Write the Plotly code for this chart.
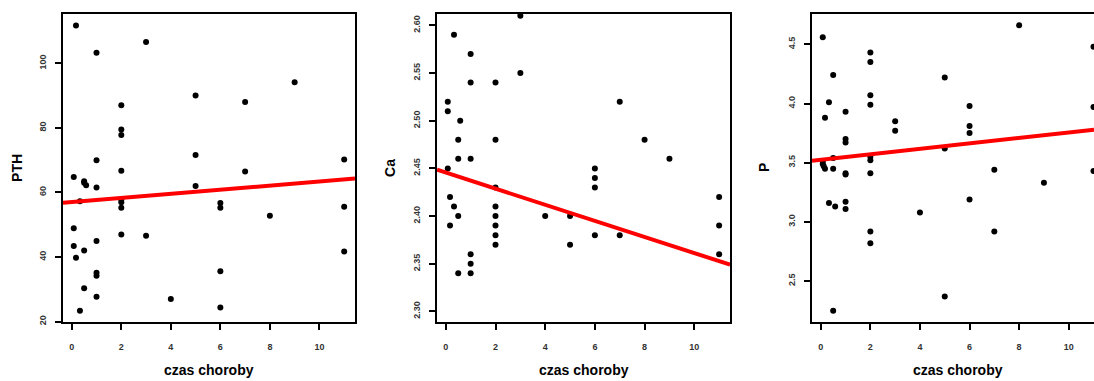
import plotly.graph_objects as go

# ---------------- data ----------------
pth_x = [0.17, 1, 3, 9, 5, 7, 2, 2, 2, 5, 1, 11, 2, 7, 0.08, 0.5, 0.5, 0.58, 1, 5,
         0.33, 2, 2, 2, 6, 6, 11, 8, 0.08, 2, 3, 0.08, 1, 0.5, 0.17, 11, 1, 1, 6,
         0.5, 1, 4, 6, 0.33]
pth_y = [111.7, 103.3, 106.6, 94.1, 90.0, 88.0, 87.0, 79.5, 77.8, 71.6, 70.0, 70.2,
         66.7, 66.5, 64.8, 63.5, 63.0, 62.2, 61.5, 62.0, 57.3, 57.8, 57.0, 55.3,
         56.7, 55.3, 55.6, 52.8, 48.9, 47.0, 46.6, 43.4, 45.0, 42.0, 39.8, 41.7,
         35.1, 34.2, 35.6, 30.3, 27.7, 27.0, 24.4, 23.4]

ca_x = [3, 0.33, 1, 1, 2, 3, 0.08, 0.08, 7, 0.58, 0.5, 2, 8, 0.5, 1, 9, 0.08, 6, 6,
        6, 2, 0.17, 11, 0.33, 2, 0.5, 2, 4, 5, 0.17, 2, 11, 2, 6, 7, 2, 5, 1, 11,
        1, 0.5, 1]
ca_y = [2.61, 2.59, 2.57, 2.54, 2.54, 2.55, 2.52, 2.51, 2.52, 2.50, 2.48, 2.48,
        2.48, 2.46, 2.46, 2.46, 2.45, 2.45, 2.44, 2.43, 2.43, 2.42, 2.42, 2.41,
        2.41, 2.40, 2.40, 2.40, 2.40, 2.39, 2.39, 2.39, 2.38, 2.38, 2.38, 2.37,
        2.37, 2.36, 2.36, 2.35, 2.34, 2.34]

p_x = [8, 0.08, 11, 2, 2, 5, 0.5, 2, 2, 0.33, 6, 11, 1, 0.17, 3, 3, 6, 6, 1, 1, 5,
       2, 2, 0.5, 0.08, 0.08, 0.12, 0.17, 0.5, 7, 11, 1, 1, 2, 9, 6, 1, 0.33,
       0.58, 1, 4, 2, 7, 2, 5, 0.5]
p_y = [4.66, 4.56, 4.48, 4.43, 4.35, 4.22, 4.24, 4.07, 3.99, 4.01, 3.98, 3.97,
       3.93, 3.88, 3.85, 3.77, 3.81, 3.75, 3.70, 3.67, 3.62, 3.55, 3.52, 3.54,
       3.51, 3.49, 3.47, 3.45, 3.45, 3.44, 3.43, 3.41, 3.40, 3.41, 3.33, 3.19,
       3.17, 3.16, 3.13, 3.11, 3.08, 2.92, 2.92, 2.82, 2.37, 2.25]

# regression lines (intercept, slope)
pth_fit = (57.0, 0.64)
ca_fit = (2.4456, -0.00844)
p_fit = (3.525, 0.023)

x_title = "czas choroby"
y_titles = ["PTH", "Ca", "P"]

pth_ticks = [20, 40, 60, 80, 100]
ca_ticks = [2.30, 2.35, 2.40, 2.45, 2.50, 2.55, 2.60]
p_ticks = [2.5, 3.0, 3.5, 4.0, 4.5]
x_ticks = [0, 2, 4, 6, 8, 10]

# ---------------- layout geometry ----------------
W, H = 1094, 381
box_top, box_bot = 14, 324.5
panels_px = [(63, 355), (437, 730), (812, W)]
x_ranges = [[-0.354, 11.437], [-0.354, 11.437], [-0.354, 11.02]]
y_ranges = [[19.9, 115.3], [2.289, 2.612], [2.155, 4.757]]
title_x_px = [209, 583.5, 958]
ytitle_x_px = [17, 390, 764]

FONT = "Liberation Sans, Arial, sans-serif"

fig = go.Figure()

datasets = [(pth_x, pth_y, pth_fit), (ca_x, ca_y, ca_fit), (p_x, p_y, p_fit)]
for i, (xs, ys, (a, b)) in enumerate(datasets):
    xa = "x" if i == 0 else f"x{i+1}"
    ya = "y" if i == 0 else f"y{i+1}"
    fig.add_trace(go.Scatter(x=xs, y=ys, mode="markers", xaxis=xa, yaxis=ya,
                             marker=dict(color="black", size=6),
                             showlegend=False, hoverinfo="skip"))
    lx = x_ranges[i]
    ly = [a + b * v for v in lx]
    fig.add_trace(go.Scatter(x=lx, y=ly, mode="lines", xaxis=xa, yaxis=ya,
                             line=dict(color="#ff0000", width=4),
                             showlegend=False, hoverinfo="skip"))

tickfont = dict(family=FONT, size=9, color="#333333", weight="bold")
yticks = [(pth_ticks, None), (ca_ticks, ".2f"), (p_ticks, ".1f")]

layout = dict(width=W, height=H, margin=dict(l=0, r=0, t=0, b=0),
              paper_bgcolor="white", plot_bgcolor="white")
ydom = [1 - box_bot / H, 1 - box_top / H]
for i in range(3):
    sx = "" if i == 0 else str(i + 1)
    x0, x1 = panels_px[i]
    layout["xaxis" + sx] = dict(
        domain=[x0 / W, min(x1 / W, 1.0)], range=x_ranges[i], anchor="y" + sx,
        tickvals=x_ticks, ticks="outside", ticklen=6, tickwidth=1.5,
        tickcolor="black", showline=True, linecolor="black", linewidth=2,
        mirror=True, showgrid=False, zeroline=False, tickfont=tickfont,
        ticklabelstandoff=9)
    tv, fmt = yticks[i]
    yd = dict(
        domain=ydom, range=y_ranges[i], anchor="x" + sx,
        tickvals=tv, ticks="outside", ticklen=6, tickwidth=1.5,
        tickcolor="black", showline=True, linecolor="black", linewidth=2,
        mirror=(i < 2), showgrid=False, zeroline=False, tickfont=tickfont,
        tickangle=-90, ticklabelstandoff=5)
    if fmt:
        yd["tickformat"] = fmt
    layout["yaxis" + sx] = yd

annotations = []
for i in range(3):
    annotations.append(dict(text=x_title, xref="paper", yref="paper",
                            x=title_x_px[i] / W, y=1 - 372.5 / H,
                            xanchor="center", yanchor="middle", showarrow=False,
                            font=dict(family=FONT, size=14, color="black", weight="bold")))
    annotations.append(dict(text=y_titles[i], xref="paper", yref="paper",
                            x=ytitle_x_px[i] / W, y=1 - (box_top + box_bot) / 2 / H,
                            xanchor="center", yanchor="middle", showarrow=False,
                            textangle=-90,
                            font=dict(family=FONT, size=14, color="black", weight="bold")))
layout["annotations"] = annotations

fig.update_layout(**layout)
fig.write_html("out.html")
